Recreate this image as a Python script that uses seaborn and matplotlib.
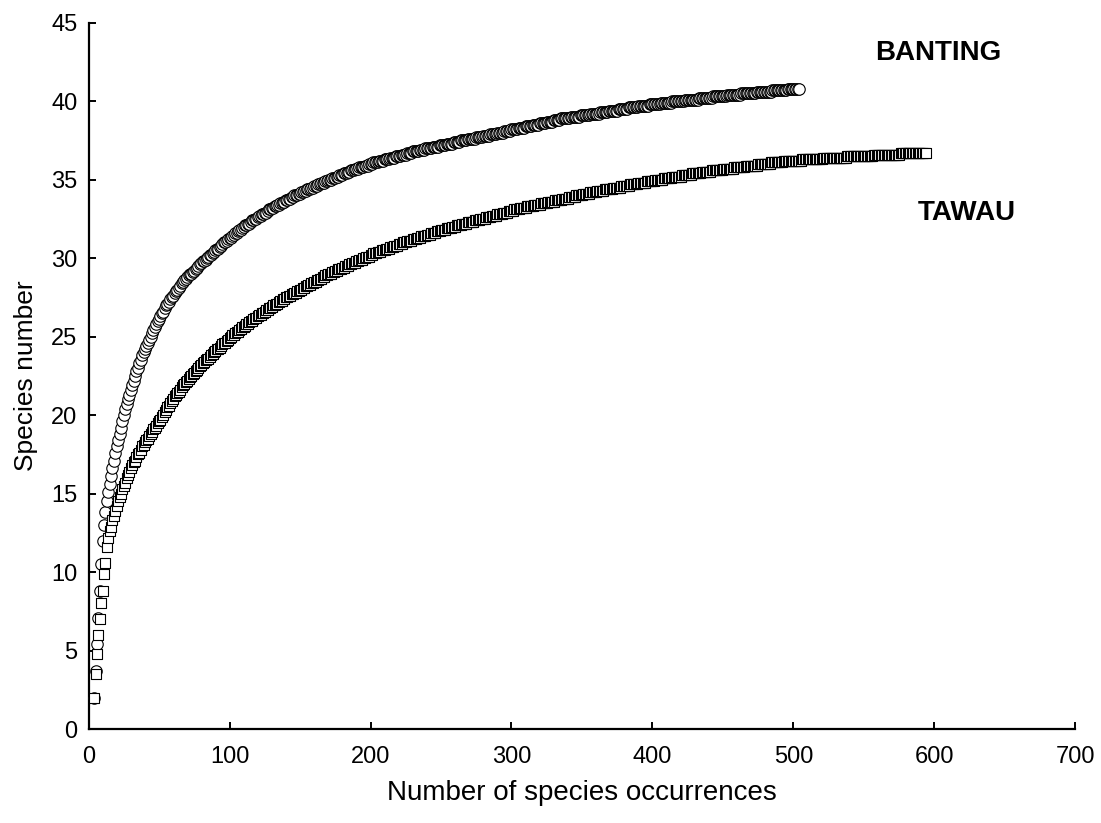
import numpy as np
import pandas as pd
import matplotlib
matplotlib.use("Agg")
import matplotlib.pyplot as plt
import seaborn as sns

# ---- data ----
banting_start = 4
banting_species = [
    2.0, 3.7, 5.4, 7.1, 8.8, 10.5, 12.0, 13.0, 13.8, 14.5,
    15.1, 15.6, 16.1, 16.6, 17.1, 17.6, 18.0, 18.4, 18.8, 19.2,
    19.6, 20.0, 20.4, 20.7, 21.0, 21.3, 21.6, 21.9, 22.2, 22.5,
    22.8, 23.0, 23.3, 23.5, 23.8, 24.0, 24.2, 24.4, 24.6, 24.8,
    25.0, 25.2, 25.4, 25.6, 25.8, 26.0, 26.1, 26.3, 26.5, 26.6,
    26.8, 27.0, 27.1, 27.2, 27.4, 27.5, 27.6, 27.8, 27.9, 28.0,
    28.1, 28.2, 28.4, 28.5, 28.6, 28.7, 28.8, 28.9, 29.0, 29.0,
    29.1, 29.2, 29.3, 29.4, 29.5, 29.6, 29.7, 29.8, 29.8, 29.9,
    30.0, 30.1, 30.2, 30.2, 30.3, 30.4, 30.5, 30.6, 30.6, 30.7,
    30.8, 30.9, 31.0, 31.0, 31.1, 31.2, 31.3, 31.3, 31.4, 31.5,
    31.6, 31.6, 31.7, 31.8, 31.8, 31.9, 32.0, 32.1, 32.1, 32.2,
    32.2, 32.3, 32.4, 32.4, 32.5, 32.5, 32.6, 32.7, 32.7, 32.8,
    32.8, 32.9, 32.9, 33.0, 33.1, 33.1, 33.2, 33.2, 33.3, 33.3,
    33.4, 33.4, 33.5, 33.5, 33.6, 33.6, 33.7, 33.7, 33.8, 33.8,
    33.9, 33.9, 34.0, 34.0, 34.0, 34.1, 34.1, 34.2, 34.2, 34.3,
    34.3, 34.4, 34.4, 34.4, 34.5, 34.5, 34.6, 34.6, 34.6, 34.7,
    34.7, 34.8, 34.8, 34.8, 34.9, 34.9, 35.0, 35.0, 35.0, 35.1,
    35.1, 35.1, 35.2, 35.2, 35.3, 35.3, 35.3, 35.4, 35.4, 35.4,
    35.5, 35.5, 35.6, 35.6, 35.6, 35.7, 35.7, 35.7, 35.8, 35.8,
    35.8, 35.8, 35.9, 35.9, 35.9, 36.0, 36.0, 36.0, 36.1, 36.1,
    36.1, 36.1, 36.2, 36.2, 36.2, 36.2, 36.3, 36.3, 36.3, 36.3,
    36.4, 36.4, 36.4, 36.4, 36.5, 36.5, 36.5, 36.5, 36.6, 36.6,
    36.6, 36.6, 36.7, 36.7, 36.7, 36.7, 36.8, 36.8, 36.8, 36.8,
    36.8, 36.9, 36.9, 36.9, 36.9, 37.0, 37.0, 37.0, 37.0, 37.0,
    37.1, 37.1, 37.1, 37.1, 37.1, 37.2, 37.2, 37.2, 37.2, 37.2,
    37.3, 37.3, 37.3, 37.3, 37.3, 37.4, 37.4, 37.4, 37.4, 37.4,
    37.5, 37.5, 37.5, 37.5, 37.5, 37.6, 37.6, 37.6, 37.6, 37.6,
    37.6, 37.7, 37.7, 37.7, 37.7, 37.7, 37.8, 37.8, 37.8, 37.8,
    37.8, 37.9, 37.9, 37.9, 37.9, 37.9, 38.0, 38.0, 38.0, 38.0,
    38.0, 38.1, 38.1, 38.1, 38.1, 38.1, 38.2, 38.2, 38.2, 38.2,
    38.2, 38.3, 38.3, 38.3, 38.3, 38.3, 38.4, 38.4, 38.4, 38.4,
    38.4, 38.5, 38.5, 38.5, 38.5, 38.5, 38.6, 38.6, 38.6, 38.6,
    38.6, 38.7, 38.7, 38.7, 38.7, 38.7, 38.8, 38.8, 38.8, 38.8,
    38.8, 38.9, 38.9, 38.9, 38.9, 38.9, 38.9, 38.9, 39.0, 39.0,
    39.0, 39.0, 39.0, 39.0, 39.0, 39.1, 39.1, 39.1, 39.1, 39.1,
    39.1, 39.1, 39.2, 39.2, 39.2, 39.2, 39.2, 39.2, 39.2, 39.3,
    39.3, 39.3, 39.3, 39.3, 39.3, 39.4, 39.4, 39.4, 39.4, 39.4,
    39.4, 39.4, 39.5, 39.5, 39.5, 39.5, 39.5, 39.5, 39.5, 39.6,
    39.6, 39.6, 39.6, 39.6, 39.6, 39.6, 39.7, 39.7, 39.7, 39.7,
    39.7, 39.7, 39.7, 39.7, 39.8, 39.8, 39.8, 39.8, 39.8, 39.8,
    39.8, 39.8, 39.9, 39.9, 39.9, 39.9, 39.9, 39.9, 39.9, 39.9,
    40.0, 40.0, 40.0, 40.0, 40.0, 40.0, 40.0, 40.0, 40.0, 40.1,
    40.1, 40.1, 40.1, 40.1, 40.1, 40.1, 40.1, 40.1, 40.1, 40.2,
    40.2, 40.2, 40.2, 40.2, 40.2, 40.2, 40.2, 40.2, 40.2, 40.3,
    40.3, 40.3, 40.3, 40.3, 40.3, 40.3, 40.3, 40.3, 40.3, 40.4,
    40.4, 40.4, 40.4, 40.4, 40.4, 40.4, 40.4, 40.4, 40.4, 40.5,
    40.5, 40.5, 40.5, 40.5, 40.5, 40.5, 40.5, 40.5, 40.5, 40.5,
    40.6, 40.6, 40.6, 40.6, 40.6, 40.6, 40.6, 40.6, 40.6, 40.6,
    40.6, 40.7, 40.7, 40.7, 40.7, 40.7, 40.7, 40.7, 40.7, 40.7,
    40.7, 40.7, 40.8, 40.8, 40.8, 40.8, 40.8, 40.8, 40.8, 40.8,
    40.8,
]

tawau_start = 4
tawau_species = [
    2.0, 3.5, 4.8, 6.0, 7.0, 8.0, 8.8, 9.9, 10.6, 11.6,
    12.2, 12.6, 12.9, 13.3, 13.6, 13.9, 14.2, 14.5, 14.8, 15.0,
    15.3, 15.5, 15.7, 16.0, 16.2, 16.4, 16.6, 16.8, 17.0, 17.1,
    17.3, 17.5, 17.6, 17.8, 18.0, 18.1, 18.3, 18.4, 18.5, 18.7,
    18.8, 18.9, 19.1, 19.2, 19.3, 19.5, 19.6, 19.7, 19.9, 20.0,
    20.2, 20.3, 20.5, 20.6, 20.8, 20.9, 21.0, 21.2, 21.3, 21.4,
    21.5, 21.6, 21.8, 21.9, 22.0, 22.1, 22.2, 22.3, 22.4, 22.5,
    22.6, 22.7, 22.8, 22.9, 23.0, 23.1, 23.2, 23.3, 23.4, 23.5,
    23.6, 23.6, 23.7, 23.8, 23.9, 24.0, 24.1, 24.2, 24.2, 24.3,
    24.4, 24.5, 24.6, 24.6, 24.7, 24.8, 24.9, 25.0, 25.1, 25.1,
    25.2, 25.3, 25.3, 25.4, 25.5, 25.6, 25.6, 25.7, 25.8, 25.8,
    25.9, 26.0, 26.0, 26.1, 26.2, 26.2, 26.3, 26.4, 26.4, 26.5,
    26.5, 26.6, 26.7, 26.7, 26.8, 26.8, 26.9, 27.0, 27.0, 27.1,
    27.1, 27.2, 27.3, 27.3, 27.4, 27.4, 27.5, 27.5, 27.6, 27.6,
    27.7, 27.7, 27.8, 27.8, 27.9, 27.9, 28.0, 28.0, 28.1, 28.1,
    28.2, 28.2, 28.3, 28.3, 28.4, 28.4, 28.5, 28.5, 28.6, 28.6,
    28.7, 28.7, 28.8, 28.8, 28.9, 28.9, 29.0, 29.0, 29.0, 29.1,
    29.1, 29.2, 29.2, 29.3, 29.3, 29.3, 29.4, 29.4, 29.5, 29.5,
    29.5, 29.6, 29.6, 29.7, 29.7, 29.7, 29.8, 29.8, 29.9, 29.9,
    29.9, 30.0, 30.0, 30.1, 30.1, 30.1, 30.2, 30.2, 30.3, 30.3,
    30.3, 30.4, 30.4, 30.4, 30.5, 30.5, 30.5, 30.6, 30.6, 30.6,
    30.7, 30.7, 30.7, 30.8, 30.8, 30.8, 30.9, 30.9, 30.9, 31.0,
    31.0, 31.0, 31.1, 31.1, 31.1, 31.1, 31.2, 31.2, 31.2, 31.3,
    31.3, 31.3, 31.4, 31.4, 31.4, 31.4, 31.5, 31.5, 31.5, 31.6,
    31.6, 31.6, 31.6, 31.7, 31.7, 31.7, 31.8, 31.8, 31.8, 31.8,
    31.9, 31.9, 31.9, 31.9, 32.0, 32.0, 32.0, 32.1, 32.1, 32.1,
    32.1, 32.2, 32.2, 32.2, 32.2, 32.3, 32.3, 32.3, 32.3, 32.3,
    32.4, 32.4, 32.4, 32.4, 32.5, 32.5, 32.5, 32.5, 32.6, 32.6,
    32.6, 32.6, 32.7, 32.7, 32.7, 32.7, 32.8, 32.8, 32.8, 32.8,
    32.9, 32.9, 32.9, 32.9, 33.0, 33.0, 33.0, 33.0, 33.1, 33.1,
    33.1, 33.1, 33.2, 33.2, 33.2, 33.2, 33.2, 33.3, 33.3, 33.3,
    33.3, 33.3, 33.4, 33.4, 33.4, 33.4, 33.4, 33.5, 33.5, 33.5,
    33.5, 33.5, 33.6, 33.6, 33.6, 33.6, 33.6, 33.7, 33.7, 33.7,
    33.7, 33.7, 33.8, 33.8, 33.8, 33.8, 33.8, 33.9, 33.9, 33.9,
    33.9, 33.9, 34.0, 34.0, 34.0, 34.0, 34.0, 34.1, 34.1, 34.1,
    34.1, 34.1, 34.2, 34.2, 34.2, 34.2, 34.2, 34.3, 34.3, 34.3,
    34.3, 34.3, 34.4, 34.4, 34.4, 34.4, 34.4, 34.4, 34.5, 34.5,
    34.5, 34.5, 34.5, 34.5, 34.6, 34.6, 34.6, 34.6, 34.6, 34.6,
    34.7, 34.7, 34.7, 34.7, 34.7, 34.7, 34.8, 34.8, 34.8, 34.8,
    34.8, 34.8, 34.9, 34.9, 34.9, 34.9, 34.9, 34.9, 35.0, 35.0,
    35.0, 35.0, 35.0, 35.0, 35.1, 35.1, 35.1, 35.1, 35.1, 35.1,
    35.2, 35.2, 35.2, 35.2, 35.2, 35.2, 35.2, 35.3, 35.3, 35.3,
    35.3, 35.3, 35.3, 35.3, 35.4, 35.4, 35.4, 35.4, 35.4, 35.4,
    35.4, 35.5, 35.5, 35.5, 35.5, 35.5, 35.5, 35.5, 35.6, 35.6,
    35.6, 35.6, 35.6, 35.6, 35.6, 35.6, 35.7, 35.7, 35.7, 35.7,
    35.7, 35.7, 35.7, 35.7, 35.8, 35.8, 35.8, 35.8, 35.8, 35.8,
    35.8, 35.8, 35.9, 35.9, 35.9, 35.9, 35.9, 35.9, 35.9, 35.9,
    35.9, 36.0, 36.0, 36.0, 36.0, 36.0, 36.0, 36.0, 36.0, 36.0,
    36.1, 36.1, 36.1, 36.1, 36.1, 36.1, 36.1, 36.1, 36.1, 36.2,
    36.2, 36.2, 36.2, 36.2, 36.2, 36.2, 36.2, 36.2, 36.2, 36.2,
    36.2, 36.2, 36.3, 36.3, 36.3, 36.3, 36.3, 36.3, 36.3, 36.3,
    36.3, 36.3, 36.3, 36.3, 36.3, 36.3, 36.3, 36.4, 36.4, 36.4,
    36.4, 36.4, 36.4, 36.4, 36.4, 36.4, 36.4, 36.4, 36.4, 36.4,
    36.4, 36.4, 36.4, 36.4, 36.5, 36.5, 36.5, 36.5, 36.5, 36.5,
    36.5, 36.5, 36.5, 36.5, 36.5, 36.5, 36.5, 36.5, 36.5, 36.5,
    36.5, 36.5, 36.5, 36.6, 36.6, 36.6, 36.6, 36.6, 36.6, 36.6,
    36.6, 36.6, 36.6, 36.6, 36.6, 36.6, 36.6, 36.6, 36.6, 36.6,
    36.6, 36.6, 36.7, 36.7, 36.7, 36.7, 36.7, 36.7, 36.7, 36.7,
    36.7, 36.7, 36.7, 36.7, 36.7, 36.7, 36.7, 36.7, 36.7, 36.7,
    36.7,
]

site_names = ["BANTING", "TAWAU"]
x_ticks = [0, 100, 200, 300, 400, 500, 600, 700]
y_ticks = [0, 5, 10, 15, 20, 25, 30, 35, 40, 45]
x_label = "Number of species occurrences"
y_label = "Species number"

# ---- tidy frames ----
df_b = pd.DataFrame({"occ": np.arange(banting_start, banting_start + len(banting_species)),
                     "species": banting_species})
df_t = pd.DataFrame({"occ": np.arange(tawau_start, tawau_start + len(tawau_species)),
                     "species": tawau_species})

sns.set_style("ticks")
plt.rcParams["font.family"] = ["Liberation Sans", "DejaVu Sans"]
plt.rcParams["text.color"] = "black"
plt.rcParams["axes.labelcolor"] = "black"

fig = plt.figure(figsize=(11.01, 8.23), dpi=100)
ax = fig.add_axes([0.0804, 0.1142, 0.8964, 0.8582])

sns.scatterplot(data=df_b, x="occ", y="species", marker="o", s=68,
                facecolor="white", edgecolor="black", linewidth=0.8, ax=ax,
                zorder=3, clip_on=False)
sns.scatterplot(data=df_t, x="occ", y="species", marker="s", s=62,
                facecolor="white", edgecolor="black", linewidth=0.8, ax=ax,
                zorder=4, clip_on=False)

ax.set_xlim(x_ticks[0], x_ticks[-1])
ax.set_ylim(y_ticks[0], y_ticks[-1])
ax.set_xticks(x_ticks)
ax.set_yticks(y_ticks)
ax.tick_params(direction="in", length=5, width=1.4, labelsize=17,
               colors="black")
ax.tick_params(axis="y", pad=8)
ax.tick_params(axis="x", pad=12)
for side in ["top", "right"]:
    ax.spines[side].set_visible(False)
for side in ["left", "bottom"]:
    ax.spines[side].set_linewidth(1.6)
    ax.spines[side].set_color("black")

ax.set_xlabel(x_label, fontsize=20)
ax.set_ylabel(y_label, fontsize=19)
ax.xaxis.set_label_coords(0.5, -0.072)
ax.yaxis.set_label_coords(-0.051, 0.5)

ax.text(558, 43.1, site_names[0], fontsize=20, fontweight="bold", va="center", ha="left")
ax.text(588, 32.9, site_names[1], fontsize=20, fontweight="bold", va="center", ha="left")

fig.savefig("out.png", dpi=100)
